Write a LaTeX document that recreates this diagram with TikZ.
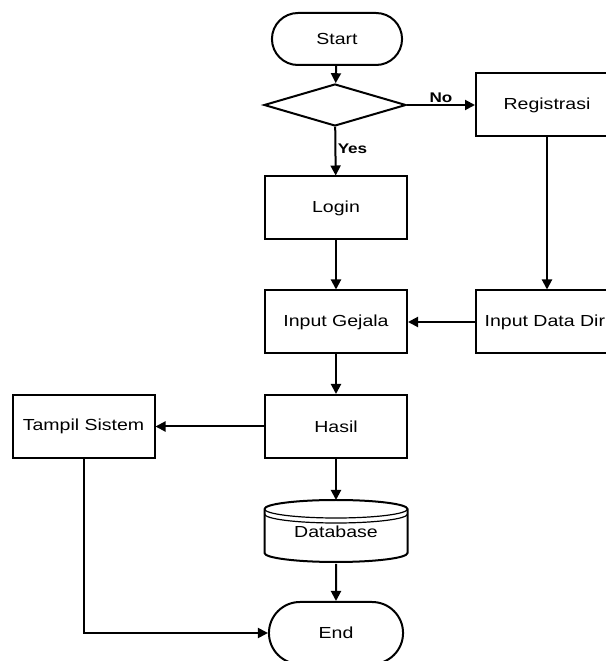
\documentclass[tikz,border=0pt]{standalone}
\usepackage{fontspec}
\setmainfont{Liberation Sans}[FakeStretch=1.22]
\usetikzlibrary{shapes.geometric,shapes.misc,arrows.meta}
\begin{document}
\begin{tikzpicture}[x=0.75pt, y=0.75pt, line width=1.5pt, box_style/.style={rectangle,draw=black,minimum width=106.5pt,minimum height=47.25pt,font=\fontsize{12}{14}\selectfont},term_style/.style={rounded rectangle,draw=black,minimum width=104.25pt,minimum height=39pt,font=\fontsize{12}{14}\selectfont},dec_style/.style={diamond,draw=black,minimum width=106.5pt,minimum height=31.5pt,inner sep=0pt},db_style/.style={rectangle,minimum width=107.25pt,minimum height=46.5pt,font=\fontsize{12}{14}\selectfont},edge_style/.style={draw=black,line width=1.5pt,-{Triangle[length=7.5pt,width=7.5pt]}},label_style/.style={font=\fontsize{10.5}{12}\selectfont\bfseries,inner sep=1pt}]
      \useasboundingbox (0,0) rectangle (606,661);
      \clip (0,0) rectangle (606,661);
      \draw
        (337, 622) node[term_style] (start){Start}
        (335, 556) node[dec_style] (dec){}
        (547, 556) node[box_style] (reg){Registrasi}
        (336, 453) node[box_style] (login){Login}
        (336, 339) node[box_style] (gejala){Input Gejala}
        (547, 339) node[box_style] (datadiri){Input Data Diri}
        (336, 234.5) node[box_style] (hasil){Hasil}
        (83.5, 234.5) node[box_style] (tampil){Tampil Sistem}
        (336, 129) node[db_style] (db){Database}
        (336, 28) node[term_style, minimum width=107.25pt, minimum height=46.5pt] (end){End};
      % database drum
      \draw (264.5,152) -- (264.5,108) arc[start angle=180, end angle=360, x radius=53.625pt, y radius=6.75pt] -- (407.5,152) arc[start angle=0, end angle=180, x radius=53.625pt, y radius=6.75pt];
      \draw[line width=0.9pt] (264.5,152) arc[start angle=180, end angle=360, x radius=53.625pt, y radius=6.75pt];
      \draw[line width=0.9pt] (264.5,147) arc[start angle=180, end angle=360, x radius=53.625pt, y radius=6.75pt];
      \begin{scope}[->]
        \draw[edge_style] (start) to (dec);
        \draw[edge_style] (dec) to node[label_style, above] (no_lbl){No} (reg);
        \draw[edge_style] (dec) to node[label_style, right, pos=0.45] (yes_lbl){Yes} (login);
        \draw[edge_style] (login) to (gejala);
        \draw[edge_style] (reg) to (datadiri);
        \draw[edge_style] (datadiri) to (gejala);
        \draw[edge_style] (gejala) to (hasil);
        \draw[edge_style] (hasil) to (tampil);
        \draw[edge_style] (hasil) to (db);
        \draw[edge_style] (db) to (end);
        \draw[edge_style] (tampil) |- (end);
      \end{scope}
    \end{tikzpicture}
\end{document}
